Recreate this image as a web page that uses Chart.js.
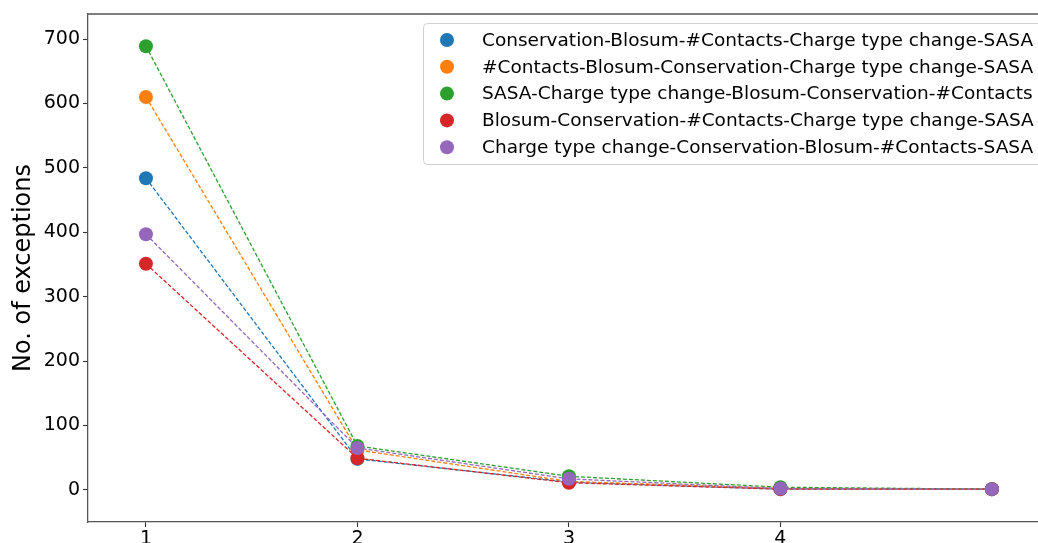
<!DOCTYPE html>
<html><head><meta charset="utf-8">
<script src="https://cdn.jsdelivr.net/npm/chart.js@4"></script>
<style>html,body{margin:0;padding:0;background:#fff;}#wrap{width:1038px;height:543px;}</style>
</head><body><div id="wrap"><canvas id="c" width="1038" height="543"></canvas></div>
<script>
const categories = [1, 2, 3, 4, 5];
const xTickLabels = [1, 2, 3, 4];
const yTickLabels = [0, 100, 200, 300, 400, 500, 600, 700];
const seriesNames = [
  "Conservation-Blosum-#Contacts-Charge type change-SASA",
  "#Contacts-Blosum-Conservation-Charge type change-SASA",
  "SASA-Charge type change-Blosum-Conservation-#Contacts",
  "Blosum-Conservation-#Contacts-Charge type change-SASA",
  "Charge type change-Conservation-Blosum-#Contacts-SASA"
];
const seriesColors = ["#1f77b4", "#ff7f0e", "#2ca02c", "#d62728", "#9467bd"];
const blueValues   = [484, 48, 12, 1, 1];
const orangeValues = [610, 62, 13, 2, 1];
const greenValues  = [689, 68, 21, 4, 1];
const redValues    = [351, 49, 11, 1, 1];
const purpleValues = [397, 65, 17, 2, 1];
const allValues = [blueValues, orangeValues, greenValues, redValues, purpleValues];

const FONT = "'DejaVu Sans', sans-serif";

const datasets = allValues.map((vals, i) => ({
  label: seriesNames[i],
  data: categories.map((c, j) => ({x: c, y: vals[j]})),
  borderColor: seriesColors[i],
  backgroundColor: seriesColors[i],
  borderWidth: 1.3,
  borderDash: [4, 2],
  pointRadius: 7,
  pointHoverRadius: 7,
  pointBorderWidth: 0,
  pointBackgroundColor: seriesColors[i],
  showLine: true,
  fill: false,
  order: allValues.length - i
}));

const frame = {
  id: 'frame',
  afterDraw(chart) {
    const {ctx, chartArea: a} = chart;
    ctx.save();
    ctx.strokeStyle = '#555';
    ctx.lineWidth = 1.3;
    ctx.beginPath();
    ctx.moveTo(a.left, a.top); ctx.lineTo(a.right + 2, a.top);
    ctx.stroke();
    // legend
    const lx = 423, ly = 23, lw = 640, lh = 141;
    ctx.fillStyle = 'rgba(255,255,255,0.8)';
    ctx.strokeStyle = '#d0d0d0';
    ctx.lineWidth = 1;
    ctx.beginPath();
    if (ctx.roundRect) ctx.roundRect(lx + 0.5, ly + 0.5, lw, lh, 4); else ctx.rect(lx + 0.5, ly + 0.5, lw, lh);
    ctx.fill(); ctx.stroke();
    ctx.font = "18.5px " + FONT;
    ctx.textBaseline = 'middle';
    ctx.textAlign = 'left';
    chart.data.datasets.forEach((d, i) => {
      const y = 40 + i * 26.8;
      ctx.fillStyle = d.borderColor;
      ctx.beginPath(); ctx.arc(447, y, 7, 0, Math.PI * 2); ctx.fill();
      ctx.fillStyle = '#000';
      ctx.fillText(d.label, 482, y + 1);
    });
    ctx.restore();
  }
};

new Chart(document.getElementById('c'), {
  type: 'scatter',
  data: { datasets },
  options: {
    responsive: false,
    animation: false,
    devicePixelRatio: 1,
    layout: { autoPadding: false, padding: { top: 14, right: 0, left: 0, bottom: 0 } },
    plugins: { legend: { display: false }, tooltip: { enabled: false } },
    scales: {
      x: {
        type: 'linear',
        min: 0.726, max: 5.218,
        afterBuildTicks(s) { s.ticks = xTickLabels.map(v => ({value: v})); },
        afterFit(s) { s.height = 21; s.paddingRight = 0; s.paddingLeft = 0; },
        grid: { drawOnChartArea: false, drawTicks: true, tickLength: 5, tickColor: '#333', tickWidth: 1.1 },
        border: { display: true, color: '#555', width: 1.3 },
        ticks: { color: '#000', font: { family: FONT, size: 19 }, padding: 1, maxRotation: 0, autoSkip: false }
      },
      y: {
        type: 'linear',
        min: -50, max: 739,
        afterBuildTicks(s) { s.ticks = yTickLabels.map(v => ({value: v})); },
        afterFit(s) { s.width = 88; s.paddingTop = 0; s.paddingBottom = 0; },
        grid: { drawOnChartArea: false, drawTicks: true, tickLength: 5, tickColor: '#333', tickWidth: 1.1 },
        border: { display: true, color: '#555', width: 1.3 },
        ticks: { color: '#000', font: { family: FONT, size: 19 }, padding: 3 },
        title: { display: true, text: 'No. of exceptions', color: '#000', font: { family: FONT, size: 24 }, padding: { top: 9, bottom: 0 } }
      }
    }
  },
  plugins: [frame]
});
</script></body></html>
